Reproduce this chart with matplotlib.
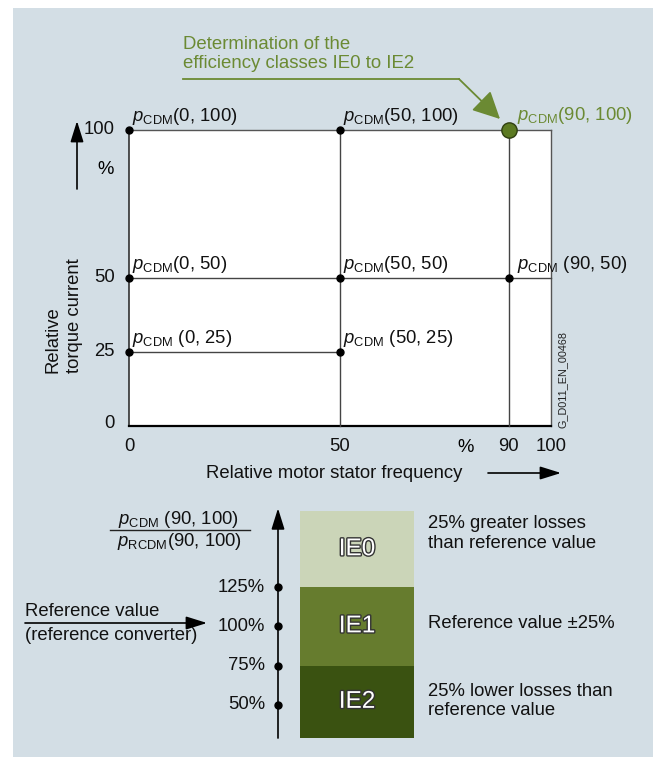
import matplotlib
matplotlib.use("Agg")
import matplotlib.pyplot as plt
import matplotlib.patheffects as pe
from matplotlib.patches import Rectangle

plt.rcParams['font.family'] = ['Liberation Sans', 'DejaVu Sans']
plt.rcParams['mathtext.fontset'] = 'custom'
plt.rcParams['mathtext.rm'] = 'Liberation Sans'
plt.rcParams['mathtext.it'] = 'Liberation Sans:italic'

W, H = 653, 757
FS = 13.3

# --- operating points (relative frequency %, relative torque current %) ---
freq_pts = [0, 50, 0, 50, 90, 0, 50]
torque_pts = [100, 100, 50, 50, 50, 25, 25]
pt_labels = [r'$p_{\mathrm{CDM}}$(0, 100)', r'$p_{\mathrm{CDM}}$(50, 100)',
             r'$p_{\mathrm{CDM}}$(0, 50)', r'$p_{\mathrm{CDM}}$(50, 50)',
             r'$p_{\mathrm{CDM}}$ (90, 50)', r'$p_{\mathrm{CDM}}$ (0, 25)',
             r'$p_{\mathrm{CDM}}$ (50, 25)']
ref_freq, ref_torque = 90, 100
ref_label = r'$p_{\mathrm{CDM}}$(90, 100)'

x_ticks = [0, 50, 90, 100]
y_ticks = [0, 25, 50, 100]

# grid lines: (level, start, end)
h_lines = [(50, 0, 100), (25, 0, 50)]
v_lines = [(50, 0, 100), (90, 0, 100)]

# --- efficiency classes ---
class_names = ['IE2', 'IE1', 'IE0']
class_bottom = [29, 75, 125]
class_top = [75, 125, 173]
class_colors = ['#3a5211', '#667c2e', '#cbd5b8']
class_notes = ['25% lower losses than\nreference value',
               'Reference value \u00b125%',
               '25% greater losses\nthan reference value']
scale_ticks = [50, 75, 100, 125]
scale_labels = ['50%', '75%', '100%', '125%']

green = '#6b8a33'
panel = '#d3dee5'


def fx(x):
    return x / W


def fy(y):
    return 1 - y / H


fig = plt.figure(figsize=(W / 100, H / 100), dpi=100)
fig.patch.set_facecolor('white')
fig.add_artist(Rectangle((fx(13), 0), 1, fy(8), transform=fig.transFigure,
                         fc=panel, ec='none', zorder=-10))

# ---------------- top chart ----------------
ax = fig.add_axes([fx(129), fy(426), (551 - 129) / W, (426 - 130) / H])
ax.set_xlim(0, 100)
ax.set_ylim(0, 100)
ax.axis('off')
ax.add_patch(Rectangle((0, 0), 100, 100, fc='white', ec='none', zorder=0))

ax.plot([0, 100], [100, 100], color='#555555', lw=1, clip_on=False)
ax.plot([100, 100], [0, 100], color='#555555', lw=1, clip_on=False)
ax.plot([0, 0], [0, 100], color='#222222', lw=1.1, clip_on=False)
ax.plot([0, 100], [0, 0], color='black', lw=1.6, clip_on=False)
for lvl, a, b in h_lines:
    ax.plot([a, b], [lvl, lvl], color='#444444', lw=1, clip_on=False)
for lvl, a, b in v_lines:
    ax.plot([lvl, lvl], [a, b], color='#444444', lw=1, clip_on=False)

ax.plot(freq_pts, torque_pts, 'o', color='black', ms=5, clip_on=False, zorder=5)
for f, t, lab in zip(freq_pts, torque_pts, pt_labels):
    dx = 6 if f == 90 else 2.5
    ax.annotate(lab, (f, t), xytext=(dx, 2.5), textcoords='offset points',
                ha='left', va='bottom', fontsize=FS, color='#111111')

ax.plot([ref_freq], [ref_torque], 'o', color='#5c7a22', mec='#2f3f10', mew=1,
        ms=11, clip_on=False, zorder=6)
ax.annotate(ref_label, (ref_freq, ref_torque), xytext=(6, 3),
            textcoords='offset points', ha='left', va='bottom',
            fontsize=FS, color=green)

for t in y_ticks:
    ax.annotate(str(t), (0, t), xytext=(-10, 2 if t == 0 else 0),
                textcoords='offset points',
                ha='right', va='center', fontsize=FS, color='#111111')
for t in x_ticks:
    ax.annotate(str(t), (t, 0), xytext=(0, -15), textcoords='offset points',
                ha='center', va='center', fontsize=FS, color='#111111')

fig.text(fx(466), fy(447), '%', ha='center', va='center', fontsize=FS)
fig.text(fx(106), fy(170), '%', ha='center', va='center', fontsize=FS)
fig.text(fx(334), fy(473), 'Relative motor stator frequency', ha='center',
         va='center', fontsize=FS, color='#111111')
fig.text(fx(64), fy(373), 'Relative\ntorque current', rotation=90,
         ha='center', va='bottom', multialignment='left', fontsize=FS,
         color='#111111', linespacing=1.35)
fig.text(fx(563), fy(428), 'G_D011_EN_00468', rotation=90, ha='center',
         va='bottom', fontsize=7.8, color='#222222')

arrow_kw = dict(arrowstyle='-|>,head_length=0.8,head_width=0.25',
                color='black', lw=1.2, mutation_scale=16, shrinkA=0, shrinkB=0)
ax.annotate('', xy=(fx(77), fy(121)), xytext=(fx(77), fy(189)),
            xycoords='figure fraction', arrowprops=arrow_kw, annotation_clip=False)
ax.annotate('', xy=(fx(561), fy(473)), xytext=(fx(488), fy(473)),
            xycoords='figure fraction', arrowprops=arrow_kw, annotation_clip=False)

# green callout
fig.text(fx(183), fy(54), 'Determination of the\nefficiency classes IE0 to IE2',
         ha='left', va='center', fontsize=13.4, color=green, linespacing=1.2)
fig.add_artist(plt.Line2D([fx(183), fx(459)], [fy(79), fy(79)],
                          transform=fig.transFigure, color=green, lw=1.3))
ax.annotate('', xy=(fx(500), fy(119)), xytext=(fx(459), fy(79)),
            xycoords='figure fraction', annotation_clip=False,
            arrowprops=dict(arrowstyle='-|>,head_length=0.7,head_width=0.35',
                            color=green, lw=1.3, mutation_scale=24,
                            shrinkA=0, shrinkB=0))

# ---------------- bottom scale ----------------
bx = fig.add_axes([0, fy(745), 1, (745 - 500) / H])
bx.set_xlim(0, W)
bx.set_ylim(50 - (745 - 705) / 1.5733, 125 + (587 - 500) / 1.5733)
bx.axis('off')

heights = [t - b for b, t in zip(class_bottom, class_top)]
bx.bar([357] * 3, heights, bottom=class_bottom, width=114, color=class_colors,
       zorder=2)
for name, b, t in zip(class_names, class_bottom, class_top):
    bx.text(357, (b + t) / 2, name, ha='center', va='center', fontsize=17.5,
            color='white',
            path_effects=[pe.withStroke(linewidth=2, foreground='#333333')])

note_y = [52.5, 102, 159]
for note, y in zip(class_notes, note_y):
    bx.text(428, y, note, ha='left', va='center', fontsize=FS,
            color='#111111', linespacing=1.2)

bx.annotate('', xy=(278, 175), xytext=(278, class_bottom[0]),
            arrowprops=arrow_kw)
bx.plot([278] * len(scale_ticks), scale_ticks, 'o', color='black', ms=5)
for v, lab in zip(scale_ticks, scale_labels):
    bx.text(265, v, lab, ha='right', va='center', fontsize=FS, color='#111111')

# fraction label
fig.text(fx(178), fy(519), r'$p_{\mathrm{CDM}}$ (90, 100)', ha='center',
         va='center', fontsize=FS, color='#111111')
fig.add_artist(plt.Line2D([fx(110), fx(250)], [fy(530), fy(530)],
                          transform=fig.transFigure, color='#222222', lw=1))
fig.text(fx(180), fy(542), r'$p_{\mathrm{RCDM}}$(90, 100)', ha='center',
         va='center', fontsize=FS, color='#111111')

# reference value arrow
fig.text(fx(25), fy(611), 'Reference value', ha='left', va='center',
         fontsize=FS, color='#111111')
fig.text(fx(25), fy(635), '(reference converter)', ha='left', va='center',
         fontsize=FS, color='#111111')
ax.annotate('', xy=(fx(207), fy(623)), xytext=(fx(25), fy(623)),
            xycoords='figure fraction', arrowprops=arrow_kw, annotation_clip=False)

fig.savefig('out.png', dpi=100)
